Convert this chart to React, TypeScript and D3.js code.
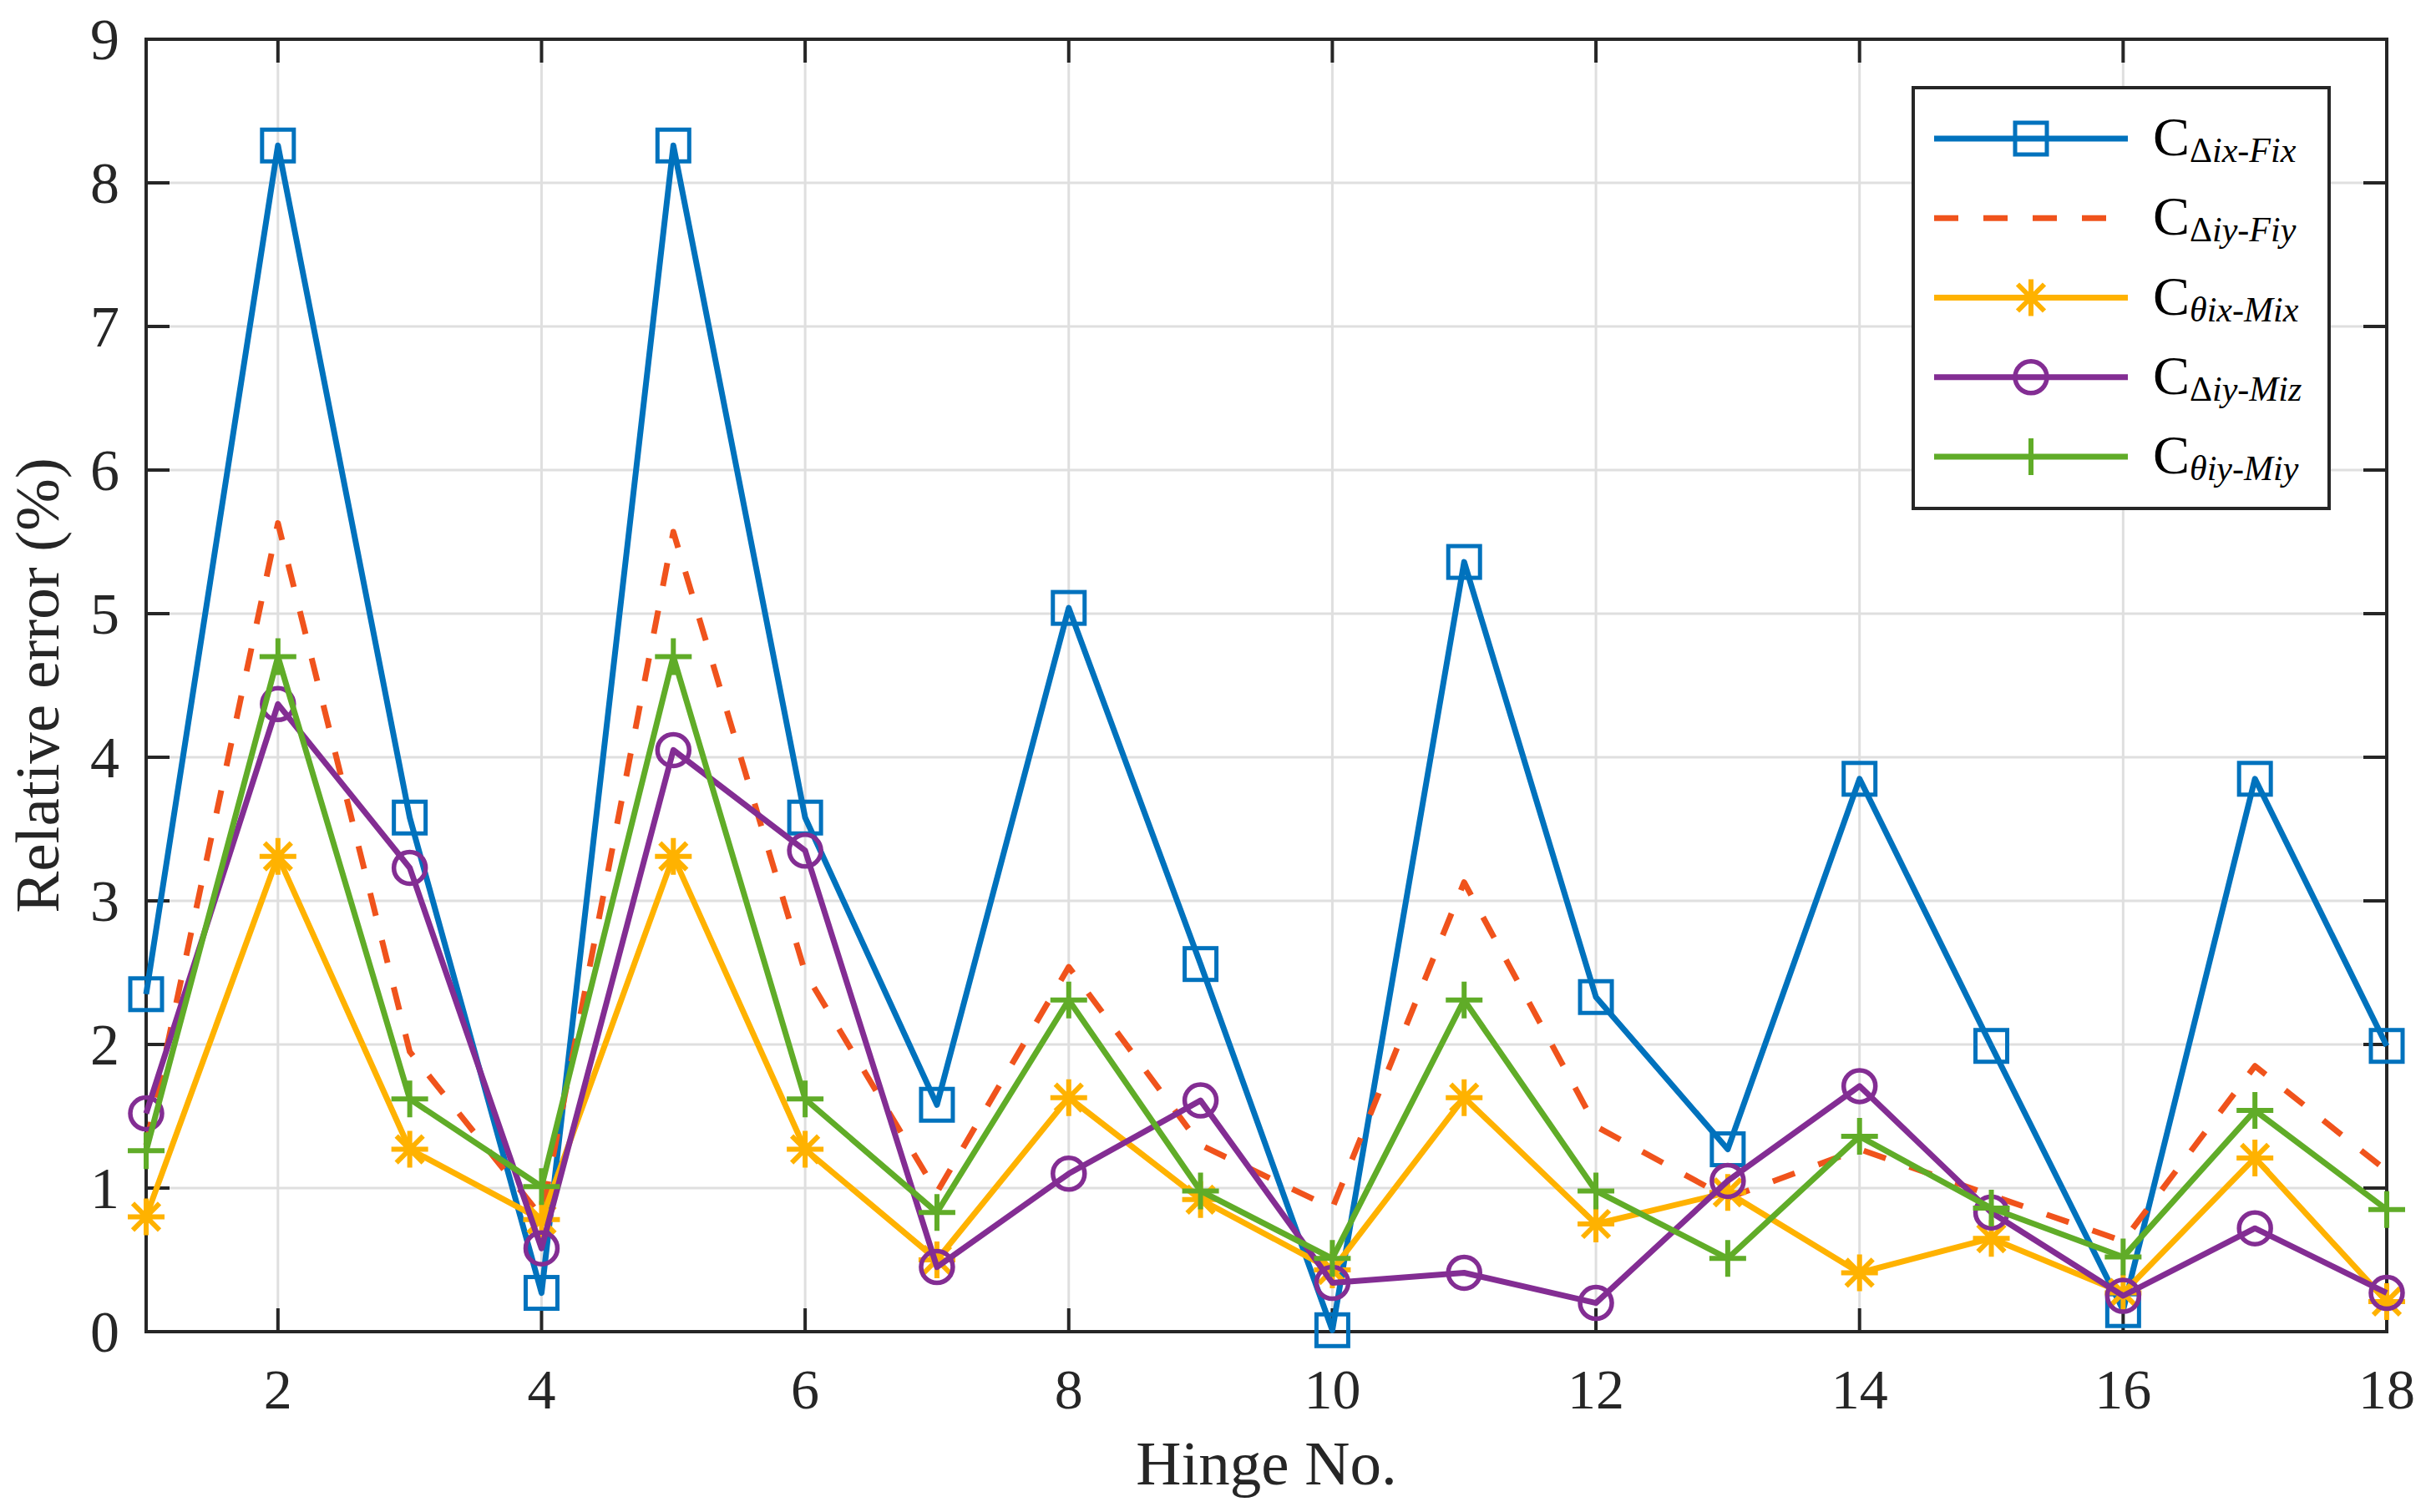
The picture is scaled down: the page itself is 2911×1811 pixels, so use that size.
import React from "react";
import * as d3 from "d3";

const hinges = [1, 2, 3, 4, 5, 6, 7, 8, 9, 10, 11, 12, 13, 14, 15, 16, 17, 18];
const xTicks = [2, 4, 6, 8, 10, 12, 14, 16, 18];
const yTicks = [0, 1, 2, 3, 4, 5, 6, 7, 8, 9];

const cDxFx = [2.35, 8.26, 3.58, 0.27, 8.26, 3.58, 1.58, 5.04, 2.56, 0.01, 5.36, 2.33, 1.27, 3.85, 1.99, 0.15, 3.85, 1.99];
const cDyFy = [1.3, 5.63, 1.95, 0.8, 5.57, 2.5, 0.97, 2.54, 1.3, 0.86, 3.13, 1.43, 0.93, 1.27, 0.95, 0.63, 1.85, 1.12];
const cTxMx = [0.8, 3.31, 1.27, 0.78, 3.31, 1.27, 0.5, 1.63, 0.92, 0.43, 1.63, 0.75, 0.97, 0.41, 0.65, 0.27, 1.21, 0.21];
const cDyMz = [1.52, 4.37, 3.23, 0.58, 4.05, 3.35, 0.45, 1.1, 1.61, 0.34, 0.41, 0.2, 1.05, 1.71, 0.83, 0.25, 0.72, 0.27];
const cTyMy = [1.26, 4.7, 1.62, 1.01, 4.7, 1.62, 0.83, 2.31, 0.98, 0.51, 2.31, 0.98, 0.51, 1.36, 0.86, 0.52, 1.54, 0.85];

type Part = { t: string; it: boolean };
type Series = { values: number[]; color: string; marker: string; dashed: boolean; sub: Part[] };

const series: Series[] = [
  { values: cDxFx, color: "#0072BD", marker: "square", dashed: false,
    sub: [{ t: "Δ", it: false }, { t: "ix", it: true }, { t: "-", it: false }, { t: "Fix", it: true }] },
  { values: cDyFy, color: "#F0531C", marker: "none", dashed: true,
    sub: [{ t: "Δ", it: false }, { t: "iy", it: true }, { t: "-", it: false }, { t: "Fiy", it: true }] },
  { values: cTxMx, color: "#FFB200", marker: "star", dashed: false,
    sub: [{ t: "θix", it: true }, { t: "-", it: false }, { t: "Mix", it: true }] },
  { values: cDyMz, color: "#832D93", marker: "circle", dashed: false,
    sub: [{ t: "Δ", it: false }, { t: "iy", it: true }, { t: "-", it: false }, { t: "Miz", it: true }] },
  { values: cTyMy, color: "#60AC28", marker: "plus", dashed: false,
    sub: [{ t: "θiy", it: true }, { t: "-", it: false }, { t: "Miy", it: true }] },
];

const W = 2911;
const H = 1811;
const L = 175, R = 2858, T = 47, B = 1595;
const FONT = "'Liberation Serif', 'Times New Roman', serif";
const AXC = "#262626";

function Marker({ kind, x, y, color }: { kind: string; x: number; y: number; color: string }) {
  if (kind === "square") {
    return <rect x={x - 19} y={y - 19} width={38} height={38} fill="none" stroke={color} strokeWidth={5} />;
  }
  if (kind === "circle") {
    return <circle cx={x} cy={y} r={19} fill="none" stroke={color} strokeWidth={5.5} />;
  }
  if (kind === "plus") {
    const r = 22;
    return <path d={`M${x - r},${y}H${x + r}M${x},${y - r}V${y + r}`} stroke={color} strokeWidth={6} fill="none" />;
  }
  if (kind === "star") {
    const r = 22, d = 16;
    return (
      <path
        d={`M${x - r},${y}H${x + r}M${x},${y - r}V${y + r}M${x - d},${y - d}L${x + d},${y + d}M${x - d},${y + d}L${x + d},${y - d}`}
        stroke={color} strokeWidth={6} fill="none" />
    );
  }
  return null;
}

export default function App() {
  const x = d3.scaleLinear().domain([1, 18]).range([L, R]);
  const y = d3.scaleLinear().domain([0, 9]).range([B, T]);
  const line = d3.line<number>().x((_, i) => x(hinges[i])).y((v) => y(v));

  const lgL = 2291, lgR = 2789, lgT = 105, lgB = 609;
  const lgY0 = 166, lgStep = 95.25;

  return (
    <svg width={W} height={H} viewBox={`0 0 ${W} ${H}`}
      style={{ position: "absolute", left: 0, top: 0, background: "#fff" }}
      fontFamily={FONT}>
      <rect x={0} y={0} width={W} height={H} fill="#fff" />
      {/* grid */}
      {yTicks.map((t) => (
        <line key={"gy" + t} x1={L} x2={R} y1={y(t)} y2={y(t)} stroke="#dfdfdf" strokeWidth={3} />
      ))}
      {xTicks.map((t) => (
        <line key={"gx" + t} x1={x(t)} x2={x(t)} y1={T} y2={B} stroke="#dfdfdf" strokeWidth={3} />
      ))}
      {/* ticks */}
      {yTicks.map((t) => (
        <g key={"ty" + t}>
          <line x1={L} x2={L + 28} y1={y(t)} y2={y(t)} stroke={AXC} strokeWidth={4} />
          <line x1={R - 28} x2={R} y1={y(t)} y2={y(t)} stroke={AXC} strokeWidth={4} />
          <text x={143} y={y(t) + 24} textAnchor="end" fontSize={70} fill={AXC}>{t}</text>
        </g>
      ))}
      {xTicks.map((t) => (
        <g key={"tx" + t}>
          <line x1={x(t)} x2={x(t)} y1={B} y2={B - 28} stroke={AXC} strokeWidth={4} />
          <line x1={x(t)} x2={x(t)} y1={T} y2={T + 28} stroke={AXC} strokeWidth={4} />
          <text x={x(t)} y={1687} textAnchor="middle" fontSize={68} fill={AXC}>{t}</text>
        </g>
      ))}
      {/* box */}
      <rect x={L} y={T} width={R - L} height={B - T} fill="none" stroke={AXC} strokeWidth={4} />
      {/* series */}
      {series.map((s, si) => (
        <g key={"s" + si}>
          <path d={line(s.values) || ""} fill="none" stroke={s.color} strokeWidth={7}
            strokeLinejoin="round" strokeDasharray={s.dashed ? "28,30" : undefined} />
          {s.values.map((v, i) => (
            <Marker key={i} kind={s.marker} x={x(hinges[i])} y={y(v)} color={s.color} />
          ))}
        </g>
      ))}
      {/* axis labels */}
      <text x={(L + R) / 2} y={1778} textAnchor="middle" fontSize={75} fill={AXC}>Hinge No.</text>
      <text transform={`translate(70, ${(T + B) / 2}) rotate(-90)`} textAnchor="middle" fontSize={75} fill={AXC}>
        Relative error (%)
      </text>
      {/* legend */}
      <rect x={lgL} y={lgT} width={lgR - lgL} height={lgB - lgT} fill="#fff" stroke={AXC} strokeWidth={4} />
      {series.map((s, si) => {
        const ly = lgY0 + si * lgStep;
        return (
          <g key={"lg" + si}>
            <line x1={2316} x2={2548} y1={ly} y2={ly} stroke={s.color} strokeWidth={7}
              strokeDasharray={s.dashed ? "29,30" : undefined} />
            <Marker kind={s.marker} x={2432} y={ly} color={s.color} />
            <text x={2578} y={ly + 20} fontSize={66} fill="#000">
              C
              <tspan dy={8} fontSize={42}>
                {s.sub.map((p, pi) => (
                  <tspan key={pi} fontStyle={p.it ? "italic" : "normal"}>{p.t}</tspan>
                ))}
              </tspan>
            </text>
          </g>
        );
      })}
    </svg>
  );
}
